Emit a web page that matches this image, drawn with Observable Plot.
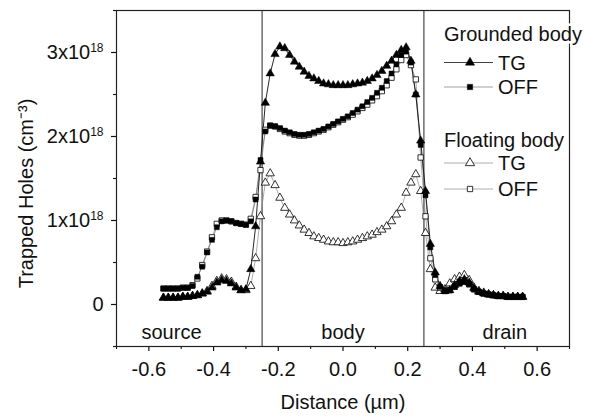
<!DOCTYPE html>
<html><head><meta charset="utf-8">
<script src="https://cdn.jsdelivr.net/npm/d3@7"></script>
<script src="https://cdn.jsdelivr.net/npm/@observablehq/plot@0.6"></script>
<style>
body{margin:0;background:#fff;}
#chart{position:relative;width:589px;height:416px;}
</style></head><body><div id="chart"></div>
<script>
// Distance (µm)
const distance = [
 -0.555,-0.54,-0.525,-0.51,-0.495,-0.48,-0.465,-0.45,-0.435,-0.42,-0.405,-0.39,-0.375,-0.36,-0.345,-0.33,-0.315,-0.3,-0.285,-0.27,-0.255,
 -0.24,-0.225,-0.21,-0.195,-0.18,-0.165,-0.15,-0.135,-0.12,-0.105,-0.09,-0.075,-0.06,-0.045,-0.03,-0.015,0,0.015,0.03,0.045,0.06,0.075,0.09,0.105,0.12,0.135,0.15,0.165,0.18,0.195,0.21,0.225,0.24,
 0.255,0.27,0.285,0.3,0.315,0.33,0.345,0.36,0.375,0.39,0.405,0.42,0.435,0.45,0.465,0.48,0.495,0.51,0.525,0.54,0.555];
// Trapped holes, units of 1e18 cm^-3
const groundedTG = [
 0.08,0.08,0.08,0.08,0.09,0.09,0.10,0.11,0.13,0.15,0.20,0.26,0.29,0.28,0.25,0.20,0.17,0.18,0.42,0.93,1.70,
 2.40,2.75,2.98,3.07,3.05,2.97,2.89,2.83,2.77,2.72,2.69,2.66,2.63,2.62,2.61,2.61,2.61,2.61,2.62,2.63,2.64,2.66,2.69,2.73,2.78,2.84,2.90,2.97,3.03,3.06,2.90,2.50,1.95,
 1.35,0.72,0.38,0.22,0.16,0.17,0.23,0.28,0.30,0.26,0.19,0.15,0.13,0.12,0.11,0.10,0.10,0.09,0.09,0.09,0.09];
const groundedOFF = [
 0.19,0.19,0.19,0.19,0.20,0.20,0.22,0.33,0.45,0.62,0.77,0.92,0.99,1.00,0.99,0.97,0.96,0.95,0.99,1.25,1.72,
 2.06,2.13,2.12,2.10,2.07,2.05,2.03,2.02,2.02,2.03,2.05,2.07,2.09,2.12,2.15,2.18,2.21,2.24,2.28,2.32,2.36,2.41,2.46,2.52,2.58,2.66,2.75,2.86,2.97,3.01,2.88,2.50,1.90,
 1.30,0.68,0.35,0.21,0.16,0.17,0.21,0.25,0.27,0.24,0.18,0.15,0.13,0.12,0.11,0.10,0.10,0.09,0.09,0.09,0.09];
const floatingTG = [
 0.08,0.08,0.08,0.08,0.09,0.09,0.10,0.11,0.13,0.16,0.22,0.28,0.31,0.30,0.27,0.21,0.17,0.17,0.22,0.55,1.05,
 1.45,1.56,1.42,1.27,1.15,1.07,1.00,0.94,0.89,0.85,0.81,0.79,0.77,0.75,0.74,0.74,0.73,0.74,0.75,0.77,0.79,0.81,0.83,0.86,0.89,0.93,0.99,1.07,1.15,1.33,1.45,1.55,1.35,
 0.85,0.42,0.20,0.16,0.18,0.25,0.30,0.33,0.35,0.29,0.20,0.16,0.14,0.12,0.11,0.10,0.10,0.09,0.09,0.09,0.09];
const floatingOFF = [
 0.19,0.19,0.19,0.19,0.20,0.20,0.23,0.31,0.47,0.63,0.80,0.96,1.00,1.00,0.99,0.97,0.96,0.95,1.02,1.28,1.60,
 2.08,2.13,2.12,2.09,2.06,2.04,2.02,2.01,2.01,2.02,2.04,2.06,2.08,2.11,2.14,2.17,2.20,2.23,2.26,2.30,2.34,2.38,2.43,2.48,2.54,2.61,2.70,2.80,2.91,2.97,2.85,2.68,1.75,
 1.05,0.55,0.30,0.20,0.16,0.17,0.21,0.25,0.27,0.24,0.18,0.15,0.13,0.12,0.11,0.10,0.10,0.09,0.09,0.09,0.09];

const xTicks = [-0.6,-0.4,-0.2,0,0.2,0.4,0.6];
const xMinorTicks = [-0.7,-0.5,-0.3,-0.1,0.1,0.3,0.5,0.7];
const yTicks = [0,1,2,3];
const yTickLabels = ["0","1x10^18","2x10^18","3x10^18"];
const yMinorTicks = [-0.5,0.5,1.5,2.5,3.5];
const boundaries = [-0.25,0.25];
const regionNames = ["source","body","drain"];
const regionX = [-0.53,0,0.5];
const xLabel = "Distance (µm)";
const yLabel = "Trapped Holes (cm⁻³)";
const legendTitles = ["Grounded body","Floating body"];
const legendNames = ["TG","OFF","TG","OFF"];

const rows = ys => distance.map((x,i)=>({x, y: ys[i]}));
const FONT = "'Liberation Sans', Arial, Helvetica, sans-serif";

const series = [
  {data: floatingTG, symbol:"triangle", filled:false, r:3.1, line:"#8a8a8a", lw:0.7},
  {data: floatingOFF, symbol:"square", filled:false, r:3.0, line:"#8a8a8a", lw:0.7},
  {data: groundedOFF, symbol:"square", filled:true, r:2.8, line:"#777", lw:0.8},
  {data: groundedTG, symbol:"triangle", filled:true, r:3.1, line:"#111", lw:0.9}
];

const marks = [
  Plot.ruleX(boundaries, {stroke:"#555", strokeWidth:1.3}),
  Plot.axisX(xTicks, {tickSize:5, tickPadding:10, tickFormat: d => d.toFixed(1), label:null, fontSize:20, strokeWidth:1.2}),
  Plot.axisX(xMinorTicks, {tickSize:3, tickFormat: () => "", label:null, strokeWidth:1.1}),
  Plot.axisY(yTicks, {tickSize:5, tickPadding:8, tickFormat: d => yTickLabels[yTicks.indexOf(d)], label:null, fontSize:20, strokeWidth:1.2}),
  Plot.axisY(yMinorTicks, {tickSize:3, tickFormat: () => "", label:null, strokeWidth:1.1})
];
for (const s of series) {
  marks.push(Plot.line(rows(s.data), {x:"x", y:"y", stroke:s.line, strokeWidth:s.lw}));
}
for (const s of series) {
  marks.push(Plot.dot(rows(s.data), {x:"x", y:"y", symbol:s.symbol, r:s.r,
    fill: s.filled ? "#000" : "#fff", stroke:"#000", strokeWidth: s.filled ? 0.5 : 0.8}));
}
marks.push(
  Plot.frame({stroke:"#222", strokeWidth:1.2}),
  Plot.text(regionNames, {x:(d,i)=>regionX[i], frameAnchor:"bottom", lineAnchor:"middle", dy:-14, text:d=>d, fontSize:20}),
  Plot.text([xLabel], {frameAnchor:"bottom", lineAnchor:"middle", textAnchor:"middle", dy:56, text:d=>d, fontSize:20}),
  Plot.text([yLabel], {frameAnchor:"left", lineAnchor:"middle", textAnchor:"middle", dx:-90, dy:15, rotate:-90, text:d=>d, fontSize:20})
);

const plot = Plot.plot({
  width:589, height:416,
  marginLeft:116, marginRight:20, marginTop:10, marginBottom:70,
  style:{fontFamily:FONT, fontSize:"20px", color:"#111", background:"#fff", overflow:"visible"},
  x:{domain:[-0.7,0.7]},
  y:{domain:[-0.5,3.5]},
  marks
});
document.getElementById("chart").append(plot);

// superscripts for y tick labels
d3.select(plot).selectAll("text").each(function(){
  const t = this.textContent;
  if (t.includes("^")) {
    const [base, exp] = t.split("^");
    const sel = d3.select(this);
    sel.text(base);
    sel.append("tspan").attr("dy","-0.55em").attr("font-size","12px").text(exp);
  }
});

// legend
const svg = d3.select(plot);
const lg = svg.append("g").attr("font-family", FONT).attr("font-size", 20).attr("fill","#111").attr("text-anchor","start");
const titleY = [41, 147];
const rowY = [62.5, 87, 163, 189];
const rowSym = ["triangle","square","triangle","square"];
const rowFill = [true,true,false,false];
const rowLine = ["#111","#888","#999","#999"];
legendTitles.forEach((t,i)=>{
  lg.append("text").attr("x",444).attr("y",titleY[i]).attr("text-anchor","start").text(t)
    .attr("stroke","#fff").attr("stroke-width",5).attr("paint-order","stroke");
});
legendNames.forEach((n,i)=>{
  lg.append("line").attr("x1",444).attr("x2",493).attr("y1",rowY[i]).attr("y2",rowY[i])
    .attr("stroke",rowLine[i]).attr("stroke-width",0.8);
  const r = rowSym[i]==="triangle" ? 3.4 : 3.0;
  const sym = d3.symbol(rowSym[i]==="triangle" ? d3.symbolTriangle : d3.symbolSquare, Math.PI*r*r);
  lg.append("path").attr("d", sym()).attr("transform",`translate(470,${rowY[i]})`)
    .attr("fill", rowFill[i] ? "#000" : "#fff").attr("stroke","#000").attr("stroke-width", rowFill[i]?0.5:0.8);
  lg.append("text").attr("x",498).attr("y",rowY[i]+7).attr("text-anchor","start").text(n);
});
</script>
</body></html>
